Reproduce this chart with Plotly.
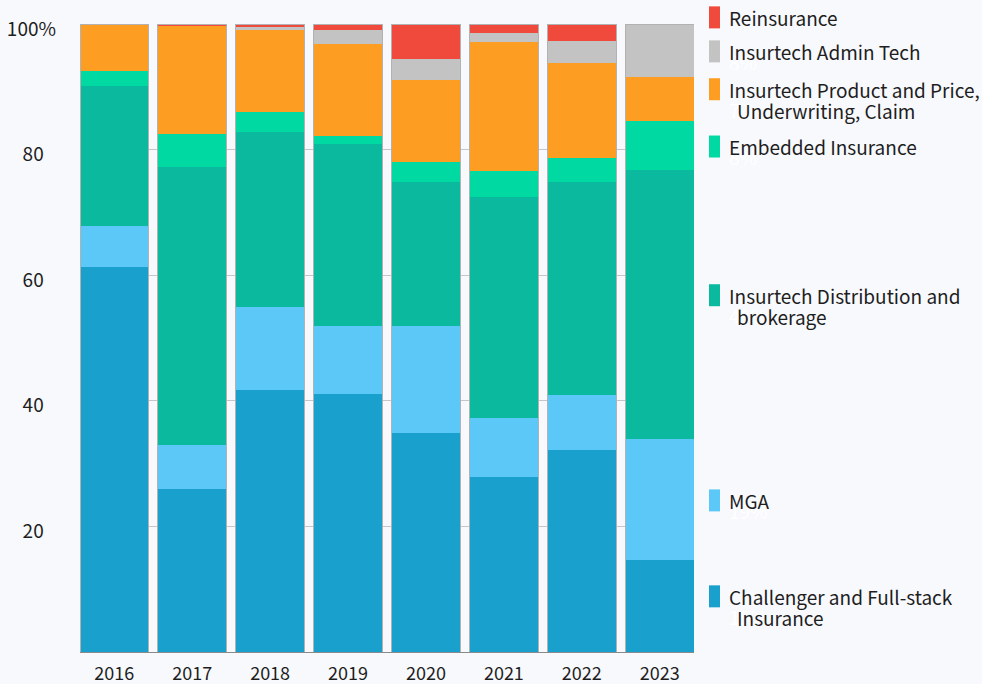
import plotly.graph_objects as go

years = ["2016", "2017", "2018", "2019", "2020", "2021", "2022", "2023"]

challenger = [61.3, 26.0, 41.65, 41.1, 34.85, 27.9, 32.1, 14.7]
mga = [6.6, 6.9, 13.35, 10.8, 17.05, 9.3, 8.75, 19.2]
distribution = [22.3, 44.4, 27.8, 29.05, 22.9, 35.2, 33.95, 42.8]
embedded = [2.3, 5.25, 3.25, 1.25, 3.3, 4.2, 3.9, 7.9]
product = [7.5, 17.25, 12.95, 14.6, 12.95, 20.5, 15.1, 7.0]
admin = [0.0, 0.0, 0.6, 2.2, 3.45, 1.5, 3.5, 8.4]
reinsurance = [0.0, 0.2, 0.4, 1.0, 5.5, 1.4, 2.7, 0.0]

# each label as its text lines
series_labels = [
    ["Challenger and Full-stack", "Insurance"],
    ["MGA"],
    ["Insurtech Distribution and", "brokerage"],
    ["Embedded Insurance"],
    ["Insurtech Product and Price,", "Underwriting, Claim"],
    ["Insurtech Admin Tech"],
    ["Reinsurance"],
]
series_values = [challenger, mga, distribution, embedded, product, admin, reinsurance]
colors = ["#1aa0cc", "#5bc8f7", "#0bba9e", "#00d9a2", "#fd9d22", "#c3c3c3", "#ef4a3c"]

y_tickvals = [20, 40, 60, 80, 100]
y_ticktext = ["20\u00a0\u00a0\u2009", "40\u00a0\u00a0\u2009", "60\u00a0\u00a0\u2009",
              "80\u00a0\u00a0\u2009", "100%"]

BG = "#f8f9fd"
FONT = "Noto Sans CJK SC"
TXT = "#1e1e1e"
W, H = 982, 684
ML, MR, MT, MB = 80, 288, 24, 32
plot_w = W - ML - MR
plot_h = H - MT - MB
px_per_unit = plot_h / 100.0
LINE_H = 21
LEG_SIZE = 19

fig = go.Figure()
for lines, vals, col in zip(series_labels, series_values, colors):
    fig.add_trace(go.Bar(
        x=years, y=vals, name=" ".join(lines),
        marker=dict(color=col, line=dict(width=0)),
        showlegend=False,
    ))

# outline of the whole stacked bar
totals = [sum(v[i] for v in series_values) for i in range(len(years))]
fig.add_trace(go.Bar(
    x=years, y=totals, xaxis="x2", showlegend=False, hoverinfo="skip",
    marker=dict(color="rgba(0,0,0,0)", line=dict(color="#b2b2b2", width=1)),
))

# right-side labels aligned with the last bar's segments
last = [v[-1] for v in series_values]
mids = []
cum = 0.0
for v in last:
    mids.append(cum + v / 2.0)
    cum += v
nlines = [len(l) for l in series_labels]
centers = [m * px_per_unit for m in mids]
for i in range(1, len(centers)):
    need = 12 + 11 * nlines[i] + 11 * nlines[i - 1]
    if centers[i] - centers[i - 1] < need:
        centers[i] = centers[i - 1] + need

annotations = []
shapes = []
right_px = W - MR
text_x = 1 + (727 - right_px) / plot_w
mk_x0 = 1 + (709 - right_px) / plot_w
mk_x1 = 1 + (720 - right_px) / plot_w
for i in range(len(series_labels)):
    shift = centers[i] - mids[i] * px_per_unit - 1
    if last[i] > 0:
        annotations.append(dict(
            x=text_x, xref="paper", y=mids[i] / 100.0, yref="paper", yshift=shift - 10,
            text=f"{round(last[i])}%", showarrow=False, xanchor="left", yanchor="middle",
            font=dict(family=FONT, size=LEG_SIZE, color="#ffffff"),
        ))
for i, lines in enumerate(series_labels):
    shift = centers[i] - mids[i] * px_per_unit - 1
    n = len(lines)
    first = shift + (n - 1) * LINE_H / 2.0
    for k, line in enumerate(lines):
        annotations.append(dict(
            x=text_x, xref="paper", y=mids[i] / 100.0, yref="paper",
            yshift=first - k * LINE_H, xshift=8 if k > 0 else 0,
            text=line, showarrow=False, xanchor="left", yanchor="middle", align="left",
            font=dict(family=FONT, size=LEG_SIZE, color=TXT),
        ))
    shapes.append(dict(
        type="rect", xref="paper", x0=mk_x0, x1=mk_x1,
        yref="paper", ysizemode="pixel", yanchor=mids[i] / 100.0,
        y0=first - 11, y1=first + 11,
        fillcolor=colors[i], line=dict(width=0), layer="above",
    ))

xr = [-0.44, len(years) - 1 + 0.44]
fig.update_layout(
    width=W, height=H,
    margin=dict(l=ML, r=MR, t=MT, b=MB, autoexpand=False),
    paper_bgcolor=BG, plot_bgcolor=BG,
    barmode="stack", bargap=0.12,
    font=dict(family=FONT, size=18, color=TXT),
    xaxis=dict(
        type="category", range=xr, showgrid=False, zeroline=False, automargin=False,
        showline=True, linecolor="#8a8a8a", linewidth=1, ticks="",
        tickfont=dict(size=18, color=TXT), ticklabelstandoff=5,
    ),
    xaxis2=dict(type="category", range=xr, overlaying="x", visible=False,
                categoryarray=years),
    yaxis=dict(
        range=[0, 100], showgrid=False, zeroline=False, showline=False, ticks="",
        automargin=False,
        tickvals=y_tickvals, ticktext=y_ticktext, ticklabelshift=5,
        ticklabelstandoff=23,
        tickfont=dict(size=19, color=TXT),
        minor=dict(tickvals=y_tickvals[:-1], showgrid=True, gridcolor="#c6c6c6",
                   gridwidth=1, ticks=""),
    ),
    annotations=annotations,
    shapes=shapes,
    hovermode=False,
)

fig.write_html(
    "out.html",
    config={"displayModeBar": False},
    post_script="document.body.style.margin='0';document.body.style.overflow='hidden';"
                "document.documentElement.style.overflow='hidden';",
)
